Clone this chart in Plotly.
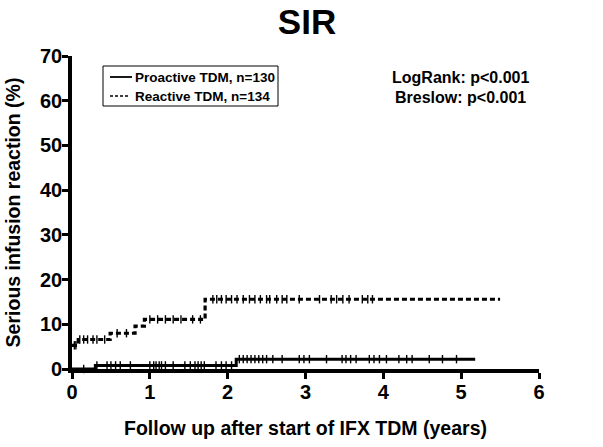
import numpy as np
import plotly.graph_objects as go

# Kaplan-Meier curves, cumulative serious infusion reactions (%)
proactive_time = [0.0, 0.30, 2.11, 5.18]
proactive_pct = [0.0, 0.8, 2.2, 2.2]
reactive_time = [0.0, 0.08, 0.49, 0.81, 0.93, 1.71, 5.50]
reactive_pct = [5.3, 6.6, 8.0, 9.6, 11.1, 15.6, 15.6]

# censored observations (years)
proactive_censored = [0.15, 0.32, 0.45, 0.50, 0.56, 0.62, 0.75, 1.00, 1.05, 1.08,
                      1.12, 1.15, 1.20, 1.30, 1.45, 1.52, 1.58, 1.62, 1.66, 1.70,
                      1.85, 1.92, 1.98, 2.05, 2.15, 2.20, 2.25, 2.30, 2.35, 2.40,
                      2.45, 2.50, 2.58, 2.70, 2.92, 2.98, 3.05, 3.27, 3.47, 3.52,
                      3.58, 3.65, 3.82, 3.88, 3.95, 4.04, 4.20, 4.30, 4.37, 4.59,
                      4.76, 4.94]
reactive_censored = [0.03, 0.05, 0.10, 0.15, 0.20, 0.27, 0.32, 0.42, 0.58, 0.70,
                     1.00, 1.10, 1.20, 1.30, 1.40, 1.55, 1.65, 1.81, 1.86, 1.92,
                     1.98, 2.05, 2.12, 2.20, 2.28, 2.35, 2.42, 2.50, 2.54, 2.63,
                     2.70, 2.76, 2.92, 3.18, 3.33, 3.40, 3.48, 3.56, 3.73, 3.80,
                     3.86]

group_labels = ["Proactive TDM, n=130", "Reactive TDM, n=134"]
test_labels = ["LogRank: p<0.001", "Breslow: p<0.001"]

x_ticks = [0, 1, 2, 3, 4, 5, 6]
y_ticks = [0, 10, 20, 30, 40, 50, 60, 70]

FONT = "Arial, Liberation Sans, sans-serif"
W, H = 603, 447
ML, MR, MT, MB = 72, 64, 56, 78
PW, PH = W - ML - MR, H - MT - MB


def px(xp):
    """pixel column -> paper x"""
    return (xp - ML) / PW


def py(yp):
    """pixel row -> paper y"""
    return (H - MB - yp) / PH


def step_value(times, values, t):
    idx = np.searchsorted(np.asarray(times), np.asarray(t), side="right") - 1
    return np.asarray(values)[idx]


fig = go.Figure()

fig.add_trace(go.Scatter(
    x=proactive_time, y=proactive_pct, mode="lines", line_shape="hv",
    line=dict(color="black", width=3), showlegend=False))
fig.add_trace(go.Scatter(
    x=reactive_time, y=reactive_pct, mode="lines", line_shape="hv",
    line=dict(color="black", width=3.2, dash="5px,3px"), showlegend=False))

# censor ticks sit on top of each curve
fig.add_trace(go.Scatter(
    x=proactive_censored, y=step_value(proactive_time, proactive_pct, proactive_censored),
    mode="markers", cliponaxis=False,
    marker=dict(symbol="line-ns", size=6, line=dict(color="black", width=1.4)),
    showlegend=False))
fig.add_trace(go.Scatter(
    x=reactive_censored, y=step_value(reactive_time, reactive_pct, reactive_censored),
    mode="markers", cliponaxis=False,
    marker=dict(symbol="line-ns", size=6, line=dict(color="black", width=1.4)),
    showlegend=False))

axis_common = dict(
    showline=True, linecolor="black", linewidth=3.6, mirror=False,
    ticks="outside", ticklen=6, tickwidth=3.2, tickcolor="black",
    showgrid=False, zeroline=False,
    tickfont=dict(family=FONT, size=20, color="black", weight="bold"),
)

fig.update_xaxes(
    range=[0, 6], tickvals=x_ticks, automargin=False, ticklabelstandoff=-4,
    title=dict(text="Follow up after start of IFX TDM (years)", standoff=21,
               font=dict(family=FONT, size=19.5, color="black", weight="bold")),
    **axis_common)
fig.update_yaxes(
    range=[0, 70], tickvals=y_ticks, automargin=False, ticklabelstandoff=-4,
    title=dict(text="Serious infusion reaction (%)", standoff=15,
               font=dict(family=FONT, size=19.5, color="black", weight="bold")),
    **axis_common)

# legend box drawn by hand
shapes = [
    dict(type="rect", xref="paper", yref="paper",
         x0=px(103), x1=px(278), y0=py(106), y1=py(66),
         line=dict(color="black", width=1), fillcolor="white", layer="below"),
    dict(type="line", xref="paper", yref="paper",
         x0=px(110), x1=px(132), y0=py(77), y1=py(77),
         line=dict(color="black", width=1.8)),
    dict(type="line", xref="paper", yref="paper",
         x0=px(110), x1=px(130), y0=py(96), y1=py(96),
         line=dict(color="black", width=1.5, dash="3px,2px")),
]
annotations = [
    dict(text=group_labels[0], xref="paper", yref="paper", x=px(133), y=py(77),
         xanchor="left", yanchor="middle", showarrow=False,
         font=dict(family=FONT, size=13.5, color="black", weight="bold")),
    dict(text=group_labels[1], xref="paper", yref="paper", x=px(133), y=py(96),
         xanchor="left", yanchor="middle", showarrow=False,
         font=dict(family=FONT, size=13.5, color="black", weight="bold")),
    dict(text=test_labels[0], xref="paper", yref="paper", x=px(460), y=py(77),
         xanchor="center", yanchor="middle", showarrow=False,
         font=dict(family=FONT, size=16, color="black", weight="bold")),
    dict(text=test_labels[1], xref="paper", yref="paper", x=px(460), y=py(97),
         xanchor="center", yanchor="middle", showarrow=False,
         font=dict(family=FONT, size=16, color="black", weight="bold")),
]

fig.update_layout(
    width=W, height=H,
    margin=dict(l=ML, r=MR, t=MT, b=MB, pad=0),
    paper_bgcolor="white", plot_bgcolor="white",
    title=dict(text="SIR", x=307 / W, xref="container", xanchor="center",
               y=1 - 22 / H, yref="container", yanchor="middle",
               font=dict(family=FONT, size=35, color="black", weight="bold")),
    shapes=shapes, annotations=annotations,
    showlegend=False,
)

fig.write_html("out.html")
